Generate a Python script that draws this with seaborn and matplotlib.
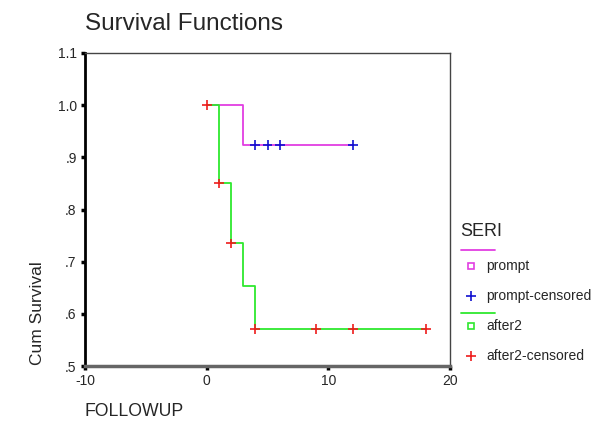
import numpy as np
import pandas as pd
import matplotlib
matplotlib.use('Agg')
import matplotlib.pyplot as plt
from matplotlib.lines import Line2D
from matplotlib.ticker import FuncFormatter
import seaborn as sns

# Kaplan-Meier step data
prompt_time = [0, 3, 12]
prompt_surv = [1.0, 0.923, 0.923]
after2_time = [0, 1, 2, 3, 4, 18]
after2_surv = [1.0, 0.85, 0.735, 0.653, 0.571, 0.571]

# censored observations
prompt_cens_time = [4, 5, 6, 12]
prompt_cens_surv = [0.923, 0.923, 0.923, 0.923]
after2_cens_time = [0, 1, 2, 4, 9, 12, 18]
after2_cens_surv = [1.0, 0.85, 0.735, 0.571, 0.571, 0.571, 0.571]

x_ticks = [-10, 0, 10, 20]
y_ticks = [0.5, 0.6, 0.7, 0.8, 0.9, 1.0, 1.1]

colors = {'prompt': '#e23ee2', 'after2': '#2ee82e'}
cens_colors = {'prompt': '#1010d0', 'after2': '#ee1c1c'}

sns.set_style('white')
plt.rcParams['font.family'] = ['Liberation Sans', 'DejaVu Sans']
plt.rcParams['axes.unicode_minus'] = False

steps = pd.concat([
    pd.DataFrame({'time': prompt_time, 'surv': prompt_surv, 'SERI': 'prompt'}),
    pd.DataFrame({'time': after2_time, 'surv': after2_surv, 'SERI': 'after2'}),
])
cens = pd.concat([
    pd.DataFrame({'time': prompt_cens_time, 'surv': prompt_cens_surv, 'SERI': 'prompt'}),
    pd.DataFrame({'time': after2_cens_time, 'surv': after2_cens_surv, 'SERI': 'after2'}),
])

fig = plt.figure(figsize=(6, 4.33), dpi=100)
ax = fig.add_axes([0.1417, 0.1547, 0.6083, 0.7229])

sns.lineplot(data=steps, x='time', y='surv', hue='SERI', palette=colors,
             drawstyle='steps-post', estimator=None, sort=False, lw=1.3,
             legend=False, ax=ax)
sns.scatterplot(data=cens, x='time', y='surv', hue='SERI', palette=cens_colors,
                marker='+', s=50, linewidth=1.2, legend=False, ax=ax, zorder=5)

ax.set_xlim(-10, 20)
ax.set_ylim(0.5, 1.1)
ax.set_xticks(x_ticks)
ax.set_yticks(y_ticks)
ax.yaxis.set_major_formatter(FuncFormatter(
    lambda v, p: f'{v:.1f}' if v >= 1 else f'{v:.1f}'.lstrip('0')))
ax.tick_params(axis='both', direction='out', length=3, width=2.5,
               labelsize=10, pad=3, color='black', bottom=True, left=True)
ax.set_xlabel('')
ax.set_ylabel('')
for side in ['top', 'right']:
    ax.spines[side].set_color('#444444')
    ax.spines[side].set_linewidth(1.0)
ax.spines['left'].set_color('black')
ax.spines['left'].set_linewidth(2.0)
ax.spines['bottom'].set_color('#666666')
ax.spines['bottom'].set_linewidth(2.5)

fig.text(85 / 600, 1 - 24 / 433, 'Survival Functions', fontsize=17.5,
         ha='left', va='center')
fig.text(85 / 600, 1 - 411 / 433, 'FOLLOWUP', fontsize=12.7,
         ha='left', va='center')
fig.text(37 / 600, 1 - 365 / 433, 'Cum Survival', fontsize=12.5,
         rotation=90, ha='center', va='bottom')

# legend drawn by hand in figure coordinates
def fx(px):
    return px / 600

def fy(py):
    return 1 - py / 433

fig.text(fx(460), fy(232), 'SERI', fontsize=13, ha='left', va='center')
legend_rows = [
    ('line', colors['prompt'], 250, None),
    ('s', colors['prompt'], 266, 'prompt'),
    ('+', cens_colors['prompt'], 296, 'prompt-censored'),
    ('line', colors['after2'], 313, None),
    ('s', colors['after2'], 326, 'after2'),
    ('+', cens_colors['after2'], 356, 'after2-censored'),
]
for kind, col, py, label in legend_rows:
    if kind == 'line':
        fig.add_artist(Line2D([fx(461), fx(495)], [fy(py), fy(py)],
                              color=col, lw=1.3, transform=fig.transFigure))
    else:
        if kind == 's':
            fig.add_artist(Line2D([fx(471)], [fy(py)], marker='s', ms=4,
                                  mfc='white', mec=col, mew=1.2, ls='',
                                  transform=fig.transFigure))
        else:
            fig.add_artist(Line2D([fx(471)], [fy(py)], marker='+', ms=7,
                                  color=col, mew=1.2, ls='',
                                  transform=fig.transFigure))
        fig.text(fx(486), fy(py), label, fontsize=10, ha='left', va='center')

fig.savefig('out.png', dpi=100)
